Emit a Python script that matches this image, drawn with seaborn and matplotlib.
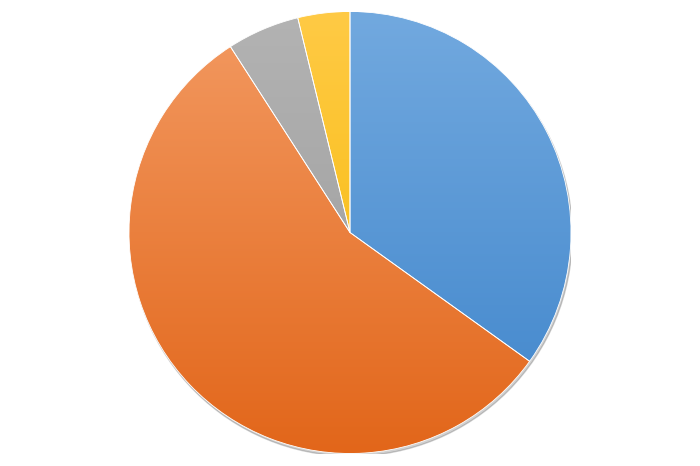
import matplotlib
matplotlib.use("Agg")
import matplotlib.pyplot as plt
import seaborn as sns
import numpy as np
from matplotlib.colors import LinearSegmentedColormap

sns.set_theme(style="white")

# slice shares (percent), clockwise from 12 o'clock
categories = ["Blue", "Orange", "Gray", "Yellow"]
shares = [34.9, 56.0, 5.3, 3.8]

# light (top) / dark (bottom) tones for each slice
top_colors = ["#72a9df", "#f39a62", "#b3b3b3", "#ffca45"]
bottom_colors = ["#3f85cb", "#e2661a", "#999999", "#f5b800"]

fig = plt.figure(figsize=(7, 4.66), dpi=100)
r_px = 221
cx, cy = 350, 466 - 232.5
ax = fig.add_axes([(cx - r_px) / 700, (cy - r_px) / 466, 2 * r_px / 700, 2 * r_px / 466])

# soft shadow under the pie
shadow = plt.Circle((0.006, -0.012), 1.0, color="#000000", alpha=0.18, zorder=0)
ax.add_patch(shadow)

wedges, _ = ax.pie(
    shares,
    startangle=90,
    counterclock=False,
    colors=bottom_colors,
    wedgeprops=dict(linewidth=0.6, edgecolor="white"),
)

grad = np.linspace(0, 1, 256).reshape(-1, 1)
for w, c_top, c_bot in zip(wedges, top_colors, bottom_colors):
    cmap = LinearSegmentedColormap.from_list("g", [c_top, c_bot])
    im = ax.imshow(grad, cmap=cmap, extent=[-1, 1, -1, 1], origin="upper",
                   aspect="auto", zorder=2)
    im.set_clip_path(w)
    w.set_facecolor("none")
    w.set_zorder(3)

ax.set_xlim(-1, 1)
ax.set_ylim(-1, 1)
ax.set_aspect("equal")
ax.axis("off")

fig.savefig("out.png", dpi=100, facecolor="white")
